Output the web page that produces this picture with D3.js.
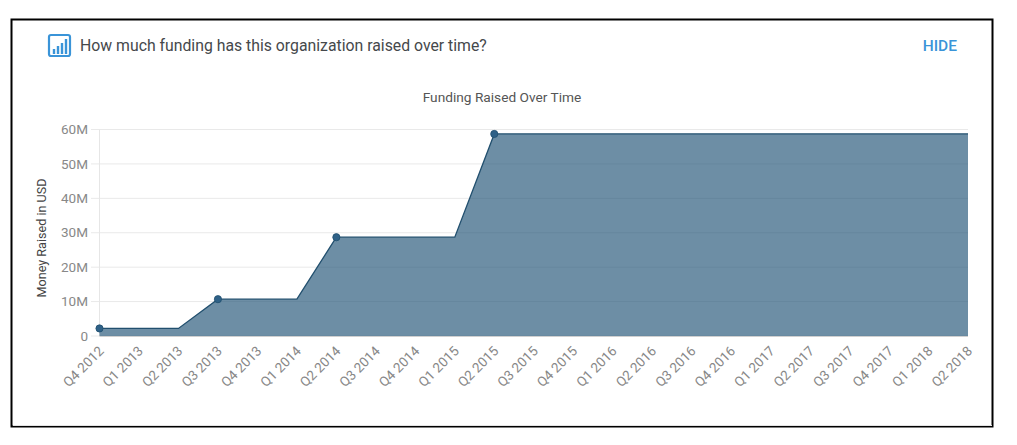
<!DOCTYPE html>
<html>
<head>
<meta charset="utf-8">
<script src="https://cdn.jsdelivr.net/npm/d3@7/dist/d3.min.js"></script>
<style>
  html, body { margin: 0; padding: 0; background: #fff; }
  svg { display: block; font-family: Roboto, sans-serif; }
</style>
</head>
<body>
<svg id="chart" width="1017" height="445"></svg>
<script>
const quarters = [
  "Q4 2012", "Q1 2013", "Q2 2013", "Q3 2013", "Q4 2013", "Q1 2014", "Q2 2014", "Q3 2014",
  "Q4 2014", "Q1 2015", "Q2 2015", "Q3 2015", "Q4 2015", "Q1 2016", "Q2 2016", "Q3 2016",
  "Q4 2016", "Q1 2017", "Q2 2017", "Q3 2017", "Q4 2017", "Q1 2018", "Q2 2018"
];
const raised = [
  2.2, 2.2, 2.2, 10.7, 10.7, 10.7, 28.7, 28.7,
  28.7, 28.7, 58.7, 58.7, 58.7, 58.7, 58.7, 58.7,
  58.7, 58.7, 58.7, 58.7, 58.7, 58.7, 58.7
];
const fundingRounds = ["Q4 2012", "Q3 2013", "Q2 2014", "Q2 2015"];
const yTicks = [0, 10, 20, 30, 40, 50, 60];

const svg = d3.select("#chart");
const x = d3.scalePoint().domain(quarters).range([99.5, 968]);
const y = d3.scaleLinear().domain([0, 60]).range([336, 129.5]);
const rows = quarters.map((q, i) => ({ q, v: raised[i] }));

// Card outline
svg.append("rect").attr("x", 11.5).attr("y", 19.5).attr("width", 981).attr("height", 407)
  .attr("fill", "#fff").attr("stroke", "#000").attr("stroke-width", 2);
svg.append("line").attr("x1", 13).attr("x2", 992).attr("y1", 425.5).attr("y2", 425.5)
  .attr("stroke", "#e4e4e4");

// Heading row
const icon = svg.append("g").attr("transform", "translate(48,34)");
icon.append("rect").attr("x", 1).attr("y", 1).attr("width", 21).attr("height", 21).attr("rx", 2)
  .attr("fill", "#fff").attr("stroke", "#3a94d8").attr("stroke-width", 2.2);
icon.selectAll("line.bar").data([[6, 15], [10, 12], [14, 9], [18, 5]]).join("line")
  .attr("class", "bar")
  .attr("x1", d => d[0]).attr("x2", d => d[0])
  .attr("y1", 20).attr("y2", d => d[1])
  .attr("stroke", "#3a94d8").attr("stroke-width", 2.4);

svg.append("text").attr("x", 80).attr("y", 51).attr("font-size", 15.8).attr("fill", "#45484b")
  .text("How much funding has this organization raised over time?");
svg.append("text").attr("x", 957).attr("y", 51).attr("text-anchor", "end")
  .attr("font-size", 15.5).attr("font-weight", 500).attr("fill", "#3a94d8").text("HIDE");
svg.append("text").attr("x", 502).attr("y", 102).attr("text-anchor", "middle")
  .attr("font-size", 13.7).attr("fill", "#555").text("Funding Raised Over Time");

// Horizontal grid and vertical axis line
svg.append("g").selectAll("line").data(yTicks).join("line")
  .attr("x1", 91).attr("x2", 968)
  .attr("y1", d => y(d)).attr("y2", d => y(d))
  .attr("stroke", "#e9e9e9");
svg.append("line").attr("x1", 99.5).attr("x2", 99.5).attr("y1", y(60)).attr("y2", y(0))
  .attr("stroke", "#e6e6e6");

// Cumulative funding area
const areaPath = d3.area().x(d => x(d.q)).y0(y(0)).y1(d => y(d.v));
const topLine = d3.line().x(d => x(d.q)).y(d => y(d.v));
svg.append("path").datum(rows).attr("d", areaPath).attr("fill", "#1f5274").attr("fill-opacity", 0.65);
svg.append("path").datum(rows).attr("d", topLine).attr("fill", "none")
  .attr("stroke", "#214f6e").attr("stroke-width", 1.3);
svg.append("line").attr("x1", 99.5).attr("x2", 968).attr("y1", y(0) + 0.5).attr("y2", y(0) + 0.5)
  .attr("stroke", "#d0d0d0");

svg.append("g").selectAll("circle")
  .data(rows.filter(d => fundingRounds.includes(d.q))).join("circle")
  .attr("cx", d => x(d.q)).attr("cy", d => y(d.v)).attr("r", 3.6)
  .attr("fill", "#2f6187").attr("stroke", "#214f6e").attr("stroke-width", 0.8);

// Axis labels
svg.append("g").selectAll("text").data(yTicks).join("text")
  .attr("x", 88).attr("y", d => y(d) + 4.6).attr("text-anchor", "end")
  .attr("font-size", 13.5).attr("fill", "#888")
  .text(d => d === 0 ? "0" : d + "M");
svg.append("text").attr("transform", "translate(46,238) rotate(-90)")
  .attr("text-anchor", "middle").attr("font-size", 12.6).attr("fill", "#444")
  .text("Money Raised in USD");
svg.append("g").selectAll("text").data(quarters).join("text")
  .attr("transform", d => `translate(${x(d) + 5},${y(0) + 16}) rotate(-45)`)
  .attr("text-anchor", "end").attr("font-size", 13.5).attr("fill", "#888")
  .text(d => d);
</script>
</body>
</html>
